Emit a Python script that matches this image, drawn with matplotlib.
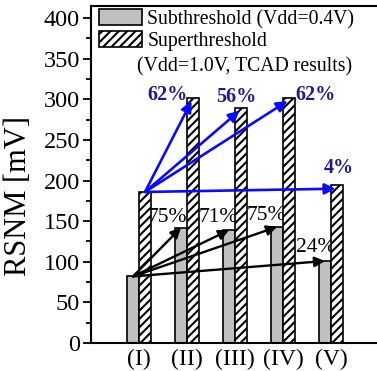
import matplotlib
matplotlib.use("Agg")
import matplotlib.pyplot as plt
import numpy as np
from matplotlib.patches import Patch

plt.rcParams['font.family'] = ['Liberation Serif', 'DejaVu Serif']
plt.rcParams['hatch.linewidth'] = 1.5

categories = ['(I)', '(II)', '(III)', '(IV)', '(V)']
sub_vals = [82, 142, 139, 143, 101]       # Subthreshold (Vdd=0.4V)
super_vals = [186, 302, 290, 302, 194]    # Superthreshold (Vdd=1.0V, TCAD)
sub_pct = ['75%', '71%', '75%', '24%']
super_pct = ['62%', '56%', '62%', '4%']

fig = plt.figure(figsize=(3.77, 3.71), dpi=100)
ax = fig.add_axes([91/377, 1 - 343/371, 288/377, 337/371])

x = np.arange(1, len(categories) + 1)
w = 0.25
ax.bar(x - w/2, sub_vals, w, color='#c0c0c0', edgecolor='black', linewidth=1.2, zorder=3)
ax.bar(x + w/2, super_vals, w, color='white', edgecolor='black', linewidth=1.2, hatch='////', zorder=3)

ax.set_xlim(0, 6)
ax.set_ylim(0, 415)
ax.set_xticks(x)
ax.set_xticklabels(categories, fontsize=17)
ax.tick_params(axis='x', length=0, pad=4)
ax.set_yticks(np.arange(0, 401, 50))
ax.set_yticks(np.arange(0, 401, 25), minor=True)
ax.tick_params(axis='y', which='major', direction='out', length=6, width=1.3, labelsize=17.5, pad=2)
ax.tick_params(axis='y', which='minor', direction='out', length=3.5, width=1.3)
ax.set_ylabel('RSNM [mV]', fontsize=22)
ax.yaxis.set_label_coords(-(91 - 33) / 288, (343 - 196) / 337)
for s in ax.spines.values():
    s.set_linewidth(1.5)
    s.set_zorder(5)

# black arrows (subthreshold)
for j in range(1, len(x)):
    ax.annotate('', xy=(x[j] - w/2, sub_vals[j]), xytext=(x[0] - w/2, sub_vals[0]),
                arrowprops=dict(arrowstyle='-|>', color='black', lw=1.7, mutation_scale=15,
                                shrinkA=0, shrinkB=0), zorder=4)
# blue arrows (superthreshold)
for j in range(1, len(x)):
    ax.annotate('', xy=(x[j] + w/2 - 0.03, super_vals[j] - 4), xytext=(x[0] + w/2, super_vals[0]),
                arrowprops=dict(arrowstyle='-|>', color='#0a0aff', lw=1.9, mutation_scale=16,
                                shrinkA=0, shrinkB=0), zorder=4)

blue_pos = [(1.6, 305), (3.02, 303), (4.67, 305), (5.17, 215)]
for (px, py), t in zip(blue_pos, super_pct):
    ax.text(px, py, t, color='#1c1c8a', fontsize=14.5, fontweight='bold', ha='center', va='center', zorder=2)
black_pos = [(1.6, 155), (2.65, 154), (3.65, 157), (4.69, 117)]
for (px, py), t in zip(black_pos, sub_pct):
    ax.text(px, py, t, color='black', fontsize=15.5, ha='center', va='center', zorder=2)

handles = [Patch(facecolor='#c0c0c0', edgecolor='black', linewidth=1.2),
           Patch(facecolor='white', edgecolor='black', linewidth=1.2, hatch='////')]
leg = ax.legend(handles, ['Subthreshold (Vdd=0.4V)', 'Superthreshold'],
                loc='upper left', bbox_to_anchor=(8/288, 1 - 3/337), frameon=False,
                fontsize=14.2, handlelength=2.2, handleheight=0.9, handletextpad=0.25,
                labelspacing=0.1, borderaxespad=0, borderpad=0)
ax.text((137 - 91) / 288, 1 - (67 - 6) / 337, '(Vdd=1.0V, TCAD results)', transform=ax.transAxes,
        fontsize=14.2, ha='left', va='center')

fig.savefig('out.png', dpi=100)
